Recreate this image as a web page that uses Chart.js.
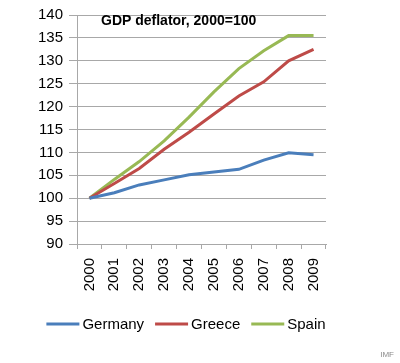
<!DOCTYPE html>
<html>
<head>
<meta charset="utf-8">
<script src="https://cdn.jsdelivr.net/npm/chart.js@4.4.1/dist/chart.umd.min.js"></script>
<style>
  html, body { margin: 0; padding: 0; background: #fff; }
  #wrap { width: 400px; height: 363px; }
</style>
</head>
<body>
<div id="wrap"><canvas id="chart1"></canvas></div>
<script>
// GDP deflator, 2000=100
var years = ["2000", "2001", "2002", "2003", "2004", "2005", "2006", "2007", "2008", "2009"];
var germany = [100, 101.2, 102.9, 104.0, 105.1, 105.7, 106.3, 108.3, 109.9, 109.5];
var greece = [100, 103.2, 106.5, 110.7, 114.4, 118.4, 122.3, 125.4, 130.0, 132.5];
var spain = [100, 104.1, 108.0, 112.5, 117.7, 123.2, 128.3, 132.2, 135.5, 135.5];

var FONT = "'Liberation Sans', Arial, sans-serif";
var GRID = "#a8a8a8";

// title inside the plot, a compact legend below, and the source note
var extras = {
  id: "extras",
  afterDraw: function (chart) {
    var ctx = chart.ctx;
    var area = chart.chartArea;
    ctx.save();
    ctx.fillStyle = "#000";
    ctx.font = "bold 14px " + FONT;
    ctx.textBaseline = "middle";
    ctx.textAlign = "left";
    ctx.fillText("GDP deflator, 2000=100", area.left + 24, area.top + 6);

    // legend: line sample, small gap, label
    ctx.font = "15px " + FONT;
    var sets = chart.data.datasets;
    var lineW = 33, gapText = 3, gapItem = 11;
    var total = 0;
    sets.forEach(function (ds, i) {
      total += lineW + gapText + ctx.measureText(ds.label).width;
      if (i < sets.length - 1) total += gapItem;
    });
    var x = 186 - total / 2;
    var y = 324;
    sets.forEach(function (ds) {
      ctx.fillStyle = ds.borderColor;
      ctx.fillRect(x, y - 1.5, lineW, 3);
      x += lineW + gapText;
      ctx.fillStyle = "#000";
      ctx.fillText(ds.label, x, y + 1);
      x += ctx.measureText(ds.label).width + gapItem;
    });

    ctx.fillStyle = "#8c8c8c";
    ctx.font = "8px " + FONT;
    ctx.textAlign = "right";
    ctx.fillText("IMF", 394, 355);
    ctx.restore();
  },
};

var ctx = document.getElementById("chart1");
var myChart = new Chart(ctx, {
  type: "line",
  data: {
    labels: years,
    datasets: [
      { label: "Germany", data: germany, borderColor: "#4A7EBB", backgroundColor: "#4A7EBB" },
      { label: "Greece", data: greece, borderColor: "#BE4B48", backgroundColor: "#BE4B48" },
      { label: "Spain", data: spain, borderColor: "#98B954", backgroundColor: "#98B954" },
    ],
  },
  options: {
    responsive: true,
    maintainAspectRatio: false,
    animation: false,
    elements: {
      line: { borderWidth: 3, tension: 0 },
      point: { radius: 0 },
    },
    layout: {
      padding: { left: 10, right: 74, top: 15, bottom: 56 },
    },
    plugins: {
      title: { display: false },
      tooltip: { enabled: false },
      legend: { display: false },
    },
    scales: {
      x: {
        offset: true,
        afterFit: function (axis) { axis.height = 63; },
        grid: {
          offset: true,
          drawOnChartArea: false,
          color: GRID,
          tickLength: 5,
        },
        border: { color: GRID },
        ticks: {
          color: "#000",
          font: { family: FONT, size: 15 },
          minRotation: 90,
          maxRotation: 90,
          padding: 9,
          autoSkip: false,
        },
      },
      y: {
        min: 90,
        max: 140,
        afterFit: function (axis) { axis.width = 67; },
        grid: { color: GRID, tickLength: 8 },
        border: { color: GRID },
        ticks: {
          stepSize: 5,
          autoSkip: false,
          color: "#000",
          padding: 6,
          font: { family: FONT, size: 15 },
        },
      },
    },
  },
  plugins: [extras],
});
</script>
</body>
</html>
